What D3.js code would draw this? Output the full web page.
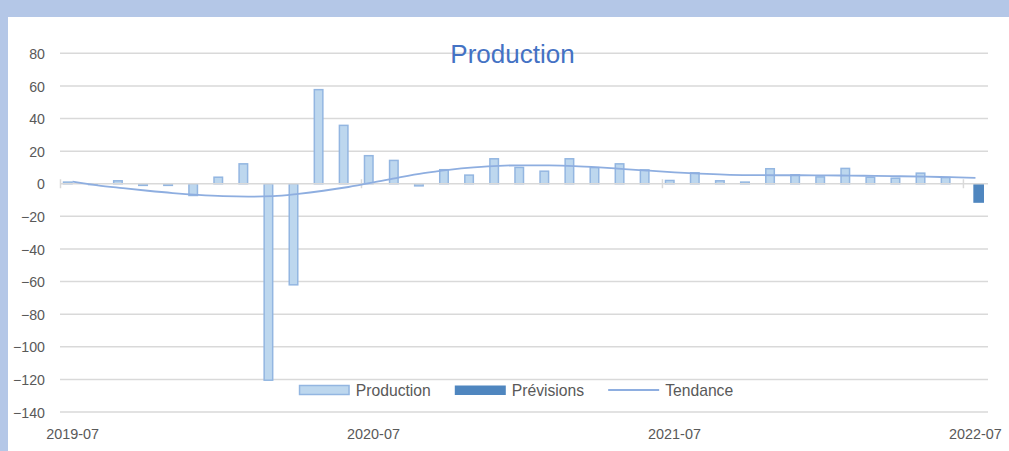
<!DOCTYPE html>
<html><head><meta charset="utf-8">
<script src="https://cdn.jsdelivr.net/npm/d3@7"></script>
<style>body{margin:0;background:#fff;overflow:hidden}</style>
</head><body><svg id="c" width="1009" height="451"></svg>
<script>
const months = ["2019-07","2019-08","2019-09","2019-10","2019-11","2019-12",
  "2020-01","2020-02","2020-03","2020-04","2020-05","2020-06",
  "2020-07","2020-08","2020-09","2020-10","2020-11","2020-12",
  "2021-01","2021-02","2021-03","2021-04","2021-05","2021-06",
  "2021-07","2021-08","2021-09","2021-10","2021-11","2021-12",
  "2022-01","2022-02","2022-03","2022-04","2022-05","2022-06","2022-07"];
const production = [1, -0.5, 1.8, -1, -1, -7.2,
  4, 12.2, -120.5, -62, 57.7, 35.8,
  17.2, 14.3, -1.3, 8.6, 5.3, 15.3,
  10, 7.7, 15.3, 9.9, 12.2, 8.5,
  2, 6.7, 1.8, 1, 9.2, 5.5,
  4.2, 9.4, 4, 3.4, 6.5, 3.8, null];
const previsions = [null,null,null,null,null,null,null,null,null,null,null,null,
  null,null,null,null,null,null,null,null,null,null,null,null,
  null,null,null,null,null,null,null,null,null,null,null,null, -11.7];
const tendance = [1.3, -1.0, -2.7, -4.3, -5.7, -6.8,
  -7.6, -7.9, -7.6, -6.2, -4.3, -2.0,
  0.8, 3.8, 6.5, 8.5, 10.0, 11.0,
  11.3, 11.2, 10.8, 10.0, 9.0, 8.0,
  7.0, 6.2, 5.6, 5.3, 5.2, 5.2,
  5.1, 5.0, 4.8, 4.6, 4.3, 4.0, 3.6];
const yTicks = [-140,-120,-100,-80,-60,-40,-20,0,20,40,60,80];
const xTickLabels = ["2019-07","2020-07","2021-07","2022-07"];
const chartTitle = "Production";
const legendLabels = ["Production","Prévisions","Tendance"];

const FONT = "'Liberation Sans', Arial, sans-serif";
const svg = d3.select("#c");
svg.append("rect").attr("width",1009).attr("height",451).attr("fill","#fff");
svg.append("rect").attr("x",0).attr("y",0).attr("width",1009).attr("height",17).attr("fill","#b4c7e7");
svg.append("rect").attr("x",0).attr("y",0).attr("width",8).attr("height",451).attr("fill","#b4c7e7");

const x = d3.scaleBand().domain(months).range([60,988]).padding(0);
const y = d3.scaleLinear().domain([-140,80]).range([412,53.3]);
const bw = x.bandwidth();

// gridlines
svg.append("g").selectAll("line").data(yTicks.filter(d=>d!==0)).join("line")
  .attr("x1",60).attr("x2",988).attr("y1",d=>y(d)).attr("y2",d=>y(d))
  .attr("stroke","#d9d9d9").attr("stroke-width",1.5);

// y axis labels
const yAxis = d3.axisLeft(y).tickValues(yTicks).tickSize(0).tickPadding(0);
const gy = svg.append("g").attr("transform","translate(45,0)").call(yAxis);
gy.select(".domain").remove();
gy.selectAll("text").attr("font-family",FONT).attr("font-size","14.2px").attr("fill","#595959").attr("dy","0.36em");

// title
svg.append("text").attr("x",512.5).attr("y",63).attr("text-anchor","middle")
  .attr("font-family",FONT).attr("font-size","26px").attr("fill","#4472c4").text(chartTitle);

// production bars
svg.append("g").selectAll("rect").data(months.map((m,i)=>({m,v:production[i]})).filter(d=>d.v!=null)).join("rect")
  .attr("x",d=>x(d.m)+bw*0.14).attr("width",bw*0.34)
  .attr("y",d=>Math.min(y(d.v),y(0))).attr("height",d=>Math.abs(y(d.v)-y(0)))
  .attr("fill","#bdd7ee").attr("stroke","#93b6e1").attr("stroke-width",1.5);

// prévisions bars
svg.append("g").selectAll("rect").data(months.map((m,i)=>({m,v:previsions[i]})).filter(d=>d.v!=null)).join("rect")
  .attr("x",d=>x(d.m)+bw*0.415).attr("width",bw*0.425)
  .attr("y",d=>Math.min(y(d.v),y(0))).attr("height",d=>Math.abs(y(d.v)-y(0)))
  .attr("fill","#4f86bf");

// zero axis line with ticks
svg.append("line").attr("x1",60).attr("x2",988).attr("y1",y(0)).attr("y2",y(0))
  .attr("stroke","#d9d9d9").attr("stroke-width",1.5);
svg.append("g").selectAll("line").data(xTickLabels).join("line")
  .attr("x1",d=>x(d)+0.5).attr("x2",d=>x(d)+0.5).attr("y1",y(0)-4.5).attr("y2",y(0)+4.5)
  .attr("stroke","#d9d9d9").attr("stroke-width",1.5);

// trend line
const line = d3.line().x((d,i)=>x(months[i])+bw/2).y(d=>y(d)).curve(d3.curveMonotoneX);
svg.append("path").datum(tendance).attr("d",line).attr("fill","none")
  .attr("stroke","#8eaee0").attr("stroke-width",1.8);

// x labels
const xAxis = d3.axisBottom(x).tickValues(xTickLabels).tickSize(0).tickPadding(0);
const gx = svg.append("g").attr("transform","translate(0,438.5)").call(xAxis);
gx.select(".domain").remove();
gx.selectAll("text").attr("font-family",FONT).attr("font-size","14.4px").attr("fill","#595959").attr("dy","0");

// legend
const lg = svg.append("g");
const legFont = "15.7px";
const swW = 51, gapT = 6, gapI = 24;
const items = legendLabels.map((t,i)=>{
  const tx = lg.append("text").attr("font-family",FONT).attr("font-size",legFont).attr("fill","#595959").text(t);
  return {t, tx, w: tx.node().getComputedTextLength(), i};
});
const total = items.reduce((s,it)=>s+swW+gapT+it.w,0) + gapI*(items.length-1);
let cx = 516 - total/2;
const ly = 390;
items.forEach(it=>{
  if (it.i===0) {
    lg.append("rect").attr("x",cx+0.75).attr("y",ly-4.5).attr("width",swW-1.5).attr("height",9)
      .attr("fill","#bdd7ee").attr("stroke","#93b6e1").attr("stroke-width",1.5);
  } else if (it.i===1) {
    lg.append("rect").attr("x",cx).attr("y",ly-4.5).attr("width",swW).attr("height",9.5).attr("fill","#4f86bf");
  } else {
    lg.append("line").attr("x1",cx).attr("x2",cx+swW).attr("y1",ly).attr("y2",ly)
      .attr("stroke","#8eaee0").attr("stroke-width",1.8);
  }
  it.tx.attr("x",cx+swW+gapT).attr("y",ly+5.5);
  cx += swW+gapT+it.w+gapI;
});
</script></body></html>
